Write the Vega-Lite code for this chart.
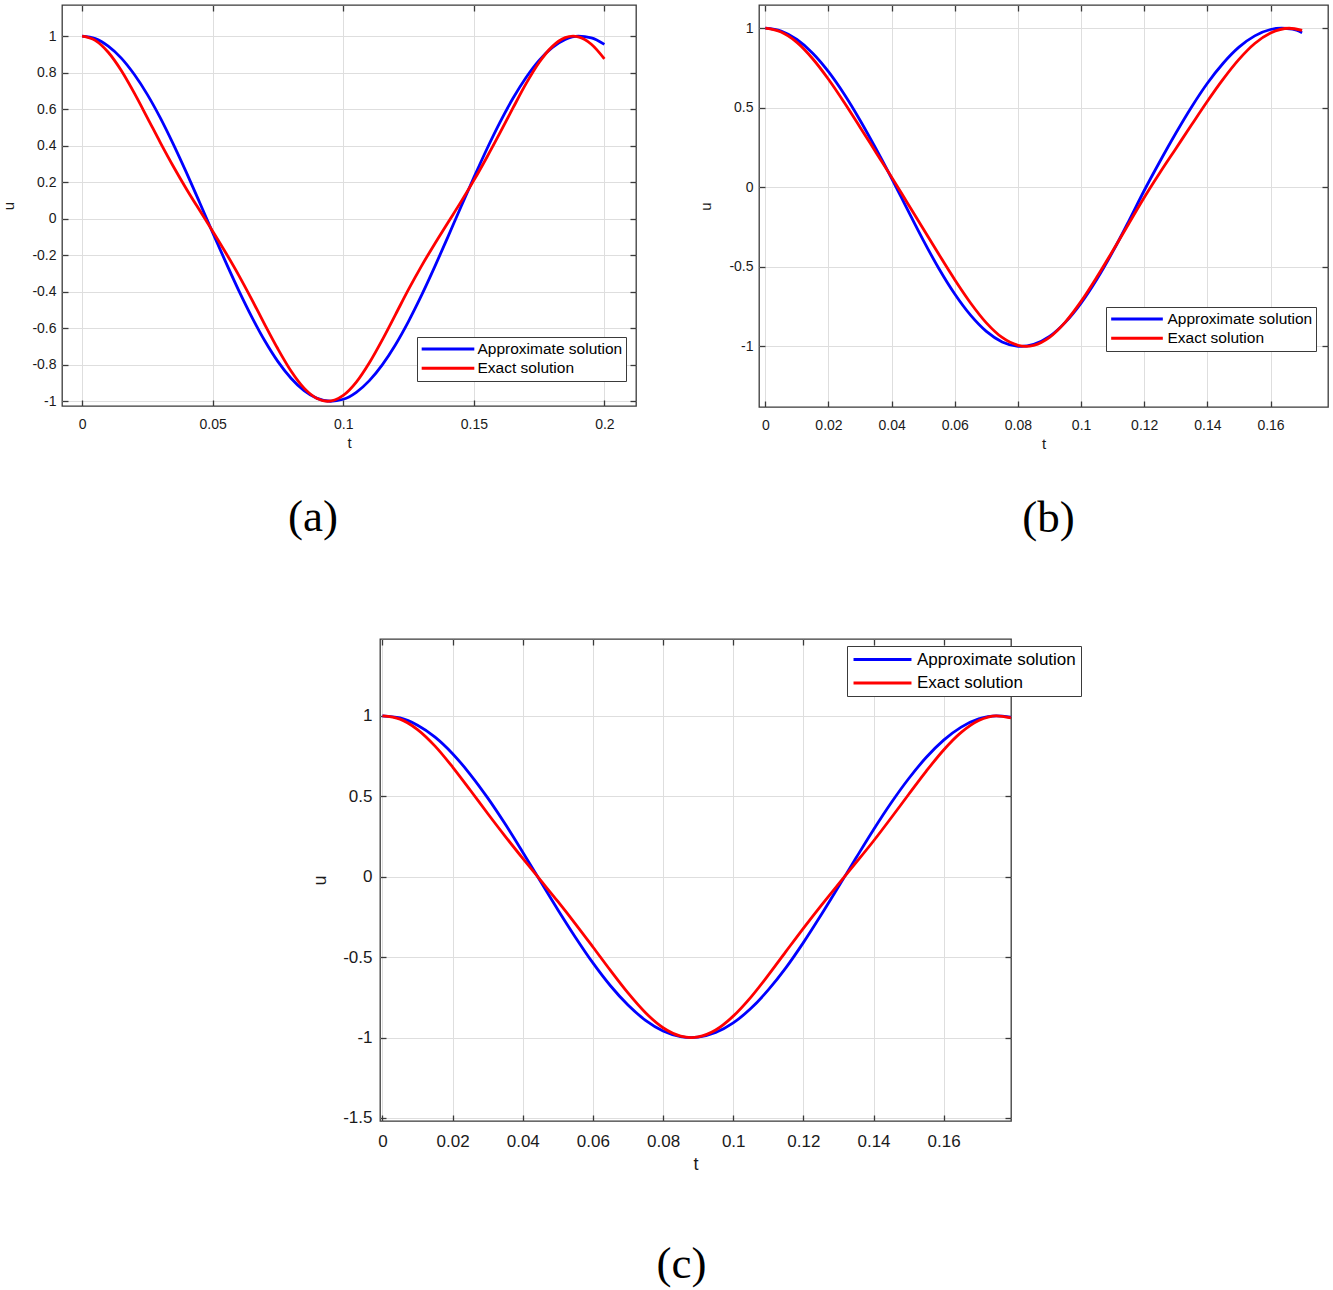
{
  "$schema": "https://vega.github.io/schema/vega-lite/v6.json",
  "background": "white",
  "padding": {"left": 1, "top": 3, "right": 2, "bottom": 2},
  "config": {
    "font": "Liberation Sans",
    "view": {"stroke": "#3a3a3a", "strokeWidth": 1.3},
    "axis": {
      "labelFont": "Liberation Sans", "labelFontSize": 14, "labelColor": "#1a1a1a",
      "titleFont": "Liberation Sans", "titleFontSize": 15, "titleFontWeight": "normal", "titleColor": "#1a1a1a",
      "domain": false, "grid": true, "gridColor": "#dedede", "gridWidth": 1,
      "tickColor": "#3a3a3a", "tickSize": -6, "tickWidth": 1.3
    },
    "legend": {
      "orient": "none", "direction": "vertical", "title": null,
      "symbolStrokeWidth": 3, "symbolSize": 196,
      "labelFont": "Liberation Sans", "labelColor": "#000000", "labelLimit": 400,
      "strokeColor": "#3a3a3a", "fillColor": "white"
    },
    "title": {"font": "Liberation Serif", "fontWeight": "normal", "color": "#000000", "fontSize": 45, "orient": "bottom", "anchor": "middle", "frame": "group"}
  },
  "datasets": {
    "a": [
      {"t": 0, "u": 1, "s": "Approximate solution"},
      {"t": 0.005, "u": 0.987, "s": "Approximate solution"},
      {"t": 0.01, "u": 0.946, "s": "Approximate solution"},
      {"t": 0.015, "u": 0.88, "s": "Approximate solution"},
      {"t": 0.02, "u": 0.79, "s": "Approximate solution"},
      {"t": 0.025, "u": 0.68, "s": "Approximate solution"},
      {"t": 0.03, "u": 0.551, "s": "Approximate solution"},
      {"t": 0.035, "u": 0.406, "s": "Approximate solution"},
      {"t": 0.04, "u": 0.251, "s": "Approximate solution"},
      {"t": 0.045, "u": 0.089, "s": "Approximate solution"},
      {"t": 0.05, "u": -0.076, "s": "Approximate solution"},
      {"t": 0.055, "u": -0.238, "s": "Approximate solution"},
      {"t": 0.06, "u": -0.394, "s": "Approximate solution"},
      {"t": 0.065, "u": -0.539, "s": "Approximate solution"},
      {"t": 0.07, "u": -0.67, "s": "Approximate solution"},
      {"t": 0.075, "u": -0.783, "s": "Approximate solution"},
      {"t": 0.08, "u": -0.874, "s": "Approximate solution"},
      {"t": 0.085, "u": -0.942, "s": "Approximate solution"},
      {"t": 0.09, "u": -0.984, "s": "Approximate solution"},
      {"t": 0.095, "u": -1, "s": "Approximate solution"},
      {"t": 0.1, "u": -0.989, "s": "Approximate solution"},
      {"t": 0.105, "u": -0.951, "s": "Approximate solution"},
      {"t": 0.11, "u": -0.887, "s": "Approximate solution"},
      {"t": 0.115, "u": -0.799, "s": "Approximate solution"},
      {"t": 0.12, "u": -0.69, "s": "Approximate solution"},
      {"t": 0.125, "u": -0.562, "s": "Approximate solution"},
      {"t": 0.13, "u": -0.419, "s": "Approximate solution"},
      {"t": 0.135, "u": -0.264, "s": "Approximate solution"},
      {"t": 0.14, "u": -0.102, "s": "Approximate solution"},
      {"t": 0.145, "u": 0.063, "s": "Approximate solution"},
      {"t": 0.15, "u": 0.225, "s": "Approximate solution"},
      {"t": 0.155, "u": 0.382, "s": "Approximate solution"},
      {"t": 0.16, "u": 0.528, "s": "Approximate solution"},
      {"t": 0.165, "u": 0.66, "s": "Approximate solution"},
      {"t": 0.17, "u": 0.774, "s": "Approximate solution"},
      {"t": 0.175, "u": 0.868, "s": "Approximate solution"},
      {"t": 0.18, "u": 0.937, "s": "Approximate solution"},
      {"t": 0.185, "u": 0.982, "s": "Approximate solution"},
      {"t": 0.19, "u": 1, "s": "Approximate solution"},
      {"t": 0.195, "u": 0.991, "s": "Approximate solution"},
      {"t": 0.2, "u": 0.955, "s": "Approximate solution"},
      {"t": 0, "u": 1, "s": "Exact solution"},
      {"t": 0.005, "u": 0.977, "s": "Exact solution"},
      {"t": 0.01, "u": 0.912, "s": "Exact solution"},
      {"t": 0.015, "u": 0.812, "s": "Exact solution"},
      {"t": 0.02, "u": 0.688, "s": "Exact solution"},
      {"t": 0.025, "u": 0.553, "s": "Exact solution"},
      {"t": 0.03, "u": 0.416, "s": "Exact solution"},
      {"t": 0.035, "u": 0.285, "s": "Exact solution"},
      {"t": 0.04, "u": 0.162, "s": "Exact solution"},
      {"t": 0.045, "u": 0.046, "s": "Exact solution"},
      {"t": 0.05, "u": -0.068, "s": "Exact solution"},
      {"t": 0.055, "u": -0.186, "s": "Exact solution"},
      {"t": 0.06, "u": -0.31, "s": "Exact solution"},
      {"t": 0.065, "u": -0.443, "s": "Exact solution"},
      {"t": 0.07, "u": -0.581, "s": "Exact solution"},
      {"t": 0.075, "u": -0.714, "s": "Exact solution"},
      {"t": 0.08, "u": -0.834, "s": "Exact solution"},
      {"t": 0.085, "u": -0.928, "s": "Exact solution"},
      {"t": 0.09, "u": -0.985, "s": "Exact solution"},
      {"t": 0.094, "u": -1, "s": "Exact solution"},
      {"t": 0.1, "u": -0.968, "s": "Exact solution"},
      {"t": 0.105, "u": -0.895, "s": "Exact solution"},
      {"t": 0.11, "u": -0.789, "s": "Exact solution"},
      {"t": 0.115, "u": -0.662, "s": "Exact solution"},
      {"t": 0.12, "u": -0.525, "s": "Exact solution"},
      {"t": 0.125, "u": -0.387, "s": "Exact solution"},
      {"t": 0.13, "u": -0.258, "s": "Exact solution"},
      {"t": 0.135, "u": -0.138, "s": "Exact solution"},
      {"t": 0.14, "u": -0.023, "s": "Exact solution"},
      {"t": 0.145, "u": 0.091, "s": "Exact solution"},
      {"t": 0.15, "u": 0.21, "s": "Exact solution"},
      {"t": 0.155, "u": 0.337, "s": "Exact solution"},
      {"t": 0.16, "u": 0.47, "s": "Exact solution"},
      {"t": 0.165, "u": 0.607, "s": "Exact solution"},
      {"t": 0.17, "u": 0.74, "s": "Exact solution"},
      {"t": 0.175, "u": 0.856, "s": "Exact solution"},
      {"t": 0.18, "u": 0.943, "s": "Exact solution"},
      {"t": 0.185, "u": 0.992, "s": "Exact solution"},
      {"t": 0.188, "u": 1, "s": "Exact solution"},
      {"t": 0.19, "u": 0.996, "s": "Exact solution"},
      {"t": 0.195, "u": 0.956, "s": "Exact solution"},
      {"t": 0.2, "u": 0.876, "s": "Exact solution"}
    ],
    "b": [
      {"t": 0, "u": 1, "s": "Approximate solution"},
      {"t": 0.005, "u": 0.982, "s": "Approximate solution"},
      {"t": 0.01, "u": 0.929, "s": "Approximate solution"},
      {"t": 0.015, "u": 0.843, "s": "Approximate solution"},
      {"t": 0.02, "u": 0.727, "s": "Approximate solution"},
      {"t": 0.025, "u": 0.585, "s": "Approximate solution"},
      {"t": 0.03, "u": 0.422, "s": "Approximate solution"},
      {"t": 0.035, "u": 0.244, "s": "Approximate solution"},
      {"t": 0.04, "u": 0.057, "s": "Approximate solution"},
      {"t": 0.045, "u": -0.139, "s": "Approximate solution"},
      {"t": 0.05, "u": -0.332, "s": "Approximate solution"},
      {"t": 0.055, "u": -0.512, "s": "Approximate solution"},
      {"t": 0.06, "u": -0.671, "s": "Approximate solution"},
      {"t": 0.065, "u": -0.804, "s": "Approximate solution"},
      {"t": 0.07, "u": -0.906, "s": "Approximate solution"},
      {"t": 0.075, "u": -0.972, "s": "Approximate solution"},
      {"t": 0.081, "u": -1, "s": "Approximate solution"},
      {"t": 0.085, "u": -0.987, "s": "Approximate solution"},
      {"t": 0.09, "u": -0.937, "s": "Approximate solution"},
      {"t": 0.095, "u": -0.849, "s": "Approximate solution"},
      {"t": 0.1, "u": -0.728, "s": "Approximate solution"},
      {"t": 0.105, "u": -0.578, "s": "Approximate solution"},
      {"t": 0.11, "u": -0.406, "s": "Approximate solution"},
      {"t": 0.115, "u": -0.217, "s": "Approximate solution"},
      {"t": 0.12, "u": -0.02, "s": "Approximate solution"},
      {"t": 0.125, "u": 0.164, "s": "Approximate solution"},
      {"t": 0.13, "u": 0.34, "s": "Approximate solution"},
      {"t": 0.135, "u": 0.505, "s": "Approximate solution"},
      {"t": 0.14, "u": 0.654, "s": "Approximate solution"},
      {"t": 0.145, "u": 0.78, "s": "Approximate solution"},
      {"t": 0.15, "u": 0.881, "s": "Approximate solution"},
      {"t": 0.155, "u": 0.952, "s": "Approximate solution"},
      {"t": 0.16, "u": 0.992, "s": "Approximate solution"},
      {"t": 0.1635, "u": 1, "s": "Approximate solution"},
      {"t": 0.167, "u": 0.994, "s": "Approximate solution"},
      {"t": 0.17, "u": 0.972, "s": "Approximate solution"},
      {"t": 0, "u": 1, "s": " Exact solution"},
      {"t": 0.005, "u": 0.976, "s": " Exact solution"},
      {"t": 0.01, "u": 0.911, "s": " Exact solution"},
      {"t": 0.015, "u": 0.808, "s": " Exact solution"},
      {"t": 0.02, "u": 0.679, "s": " Exact solution"},
      {"t": 0.025, "u": 0.533, "s": " Exact solution"},
      {"t": 0.03, "u": 0.378, "s": " Exact solution"},
      {"t": 0.035, "u": 0.221, "s": " Exact solution"},
      {"t": 0.04, "u": 0.064, "s": " Exact solution"},
      {"t": 0.045, "u": -0.098, "s": " Exact solution"},
      {"t": 0.05, "u": -0.26, "s": " Exact solution"},
      {"t": 0.055, "u": -0.423, "s": " Exact solution"},
      {"t": 0.06, "u": -0.581, "s": " Exact solution"},
      {"t": 0.065, "u": -0.727, "s": " Exact solution"},
      {"t": 0.07, "u": -0.852, "s": " Exact solution"},
      {"t": 0.075, "u": -0.944, "s": " Exact solution"},
      {"t": 0.08, "u": -0.993, "s": " Exact solution"},
      {"t": 0.0826, "u": -1, "s": " Exact solution"},
      {"t": 0.085, "u": -0.993, "s": " Exact solution"},
      {"t": 0.09, "u": -0.943, "s": " Exact solution"},
      {"t": 0.095, "u": -0.847, "s": " Exact solution"},
      {"t": 0.1, "u": -0.717, "s": " Exact solution"},
      {"t": 0.105, "u": -0.564, "s": " Exact solution"},
      {"t": 0.11, "u": -0.4, "s": " Exact solution"},
      {"t": 0.115, "u": -0.232, "s": " Exact solution"},
      {"t": 0.12, "u": -0.064, "s": " Exact solution"},
      {"t": 0.125, "u": 0.093, "s": " Exact solution"},
      {"t": 0.13, "u": 0.243, "s": " Exact solution"},
      {"t": 0.135, "u": 0.393, "s": " Exact solution"},
      {"t": 0.14, "u": 0.541, "s": " Exact solution"},
      {"t": 0.145, "u": 0.68, "s": " Exact solution"},
      {"t": 0.15, "u": 0.804, "s": " Exact solution"},
      {"t": 0.155, "u": 0.904, "s": " Exact solution"},
      {"t": 0.16, "u": 0.97, "s": " Exact solution"},
      {"t": 0.1659, "u": 1, "s": " Exact solution"},
      {"t": 0.17, "u": 0.986, "s": " Exact solution"}
    ],
    "c": [
      {"t": 0, "u": 1, "s": "Approximate solution"},
      {"t": 0.005, "u": 0.987, "s": "Approximate solution"},
      {"t": 0.01, "u": 0.942, "s": "Approximate solution"},
      {"t": 0.015, "u": 0.868, "s": "Approximate solution"},
      {"t": 0.02, "u": 0.765, "s": "Approximate solution"},
      {"t": 0.025, "u": 0.637, "s": "Approximate solution"},
      {"t": 0.03, "u": 0.49, "s": "Approximate solution"},
      {"t": 0.035, "u": 0.327, "s": "Approximate solution"},
      {"t": 0.04, "u": 0.152, "s": "Approximate solution"},
      {"t": 0.045, "u": -0.027, "s": "Approximate solution"},
      {"t": 0.05, "u": -0.205, "s": "Approximate solution"},
      {"t": 0.055, "u": -0.376, "s": "Approximate solution"},
      {"t": 0.06, "u": -0.536, "s": "Approximate solution"},
      {"t": 0.065, "u": -0.678, "s": "Approximate solution"},
      {"t": 0.07, "u": -0.798, "s": "Approximate solution"},
      {"t": 0.075, "u": -0.893, "s": "Approximate solution"},
      {"t": 0.08, "u": -0.959, "s": "Approximate solution"},
      {"t": 0.085, "u": -0.994, "s": "Approximate solution"},
      {"t": 0.088, "u": -1, "s": "Approximate solution"},
      {"t": 0.09, "u": -0.997, "s": "Approximate solution"},
      {"t": 0.095, "u": -0.969, "s": "Approximate solution"},
      {"t": 0.1, "u": -0.909, "s": "Approximate solution"},
      {"t": 0.105, "u": -0.82, "s": "Approximate solution"},
      {"t": 0.11, "u": -0.704, "s": "Approximate solution"},
      {"t": 0.115, "u": -0.567, "s": "Approximate solution"},
      {"t": 0.12, "u": -0.41, "s": "Approximate solution"},
      {"t": 0.125, "u": -0.24, "s": "Approximate solution"},
      {"t": 0.13, "u": -0.063, "s": "Approximate solution"},
      {"t": 0.135, "u": 0.116, "s": "Approximate solution"},
      {"t": 0.14, "u": 0.292, "s": "Approximate solution"},
      {"t": 0.145, "u": 0.458, "s": "Approximate solution"},
      {"t": 0.15, "u": 0.609, "s": "Approximate solution"},
      {"t": 0.155, "u": 0.741, "s": "Approximate solution"},
      {"t": 0.16, "u": 0.849, "s": "Approximate solution"},
      {"t": 0.165, "u": 0.93, "s": "Approximate solution"},
      {"t": 0.17, "u": 0.981, "s": "Approximate solution"},
      {"t": 0.175, "u": 1, "s": "Approximate solution"},
      {"t": 0.1792, "u": 0.991, "s": "Approximate solution"},
      {"t": 0, "u": 1, "s": " Exact solution"},
      {"t": 0.005, "u": 0.98, "s": " Exact solution"},
      {"t": 0.01, "u": 0.915, "s": " Exact solution"},
      {"t": 0.015, "u": 0.812, "s": " Exact solution"},
      {"t": 0.02, "u": 0.682, "s": " Exact solution"},
      {"t": 0.025, "u": 0.539, "s": " Exact solution"},
      {"t": 0.03, "u": 0.393, "s": " Exact solution"},
      {"t": 0.035, "u": 0.251, "s": " Exact solution"},
      {"t": 0.04, "u": 0.114, "s": " Exact solution"},
      {"t": 0.045, "u": -0.02, "s": " Exact solution"},
      {"t": 0.05, "u": -0.154, "s": " Exact solution"},
      {"t": 0.055, "u": -0.293, "s": " Exact solution"},
      {"t": 0.06, "u": -0.437, "s": " Exact solution"},
      {"t": 0.065, "u": -0.583, "s": " Exact solution"},
      {"t": 0.07, "u": -0.723, "s": " Exact solution"},
      {"t": 0.075, "u": -0.846, "s": " Exact solution"},
      {"t": 0.08, "u": -0.939, "s": " Exact solution"},
      {"t": 0.085, "u": -0.991, "s": " Exact solution"},
      {"t": 0.088, "u": -1, "s": " Exact solution"},
      {"t": 0.09, "u": -0.996, "s": " Exact solution"},
      {"t": 0.095, "u": -0.953, "s": " Exact solution"},
      {"t": 0.1, "u": -0.867, "s": " Exact solution"},
      {"t": 0.105, "u": -0.75, "s": " Exact solution"},
      {"t": 0.11, "u": -0.612, "s": " Exact solution"},
      {"t": 0.115, "u": -0.466, "s": " Exact solution"},
      {"t": 0.12, "u": -0.321, "s": " Exact solution"},
      {"t": 0.125, "u": -0.181, "s": " Exact solution"},
      {"t": 0.13, "u": -0.046, "s": " Exact solution"},
      {"t": 0.135, "u": 0.087, "s": " Exact solution"},
      {"t": 0.14, "u": 0.222, "s": " Exact solution"},
      {"t": 0.145, "u": 0.365, "s": " Exact solution"},
      {"t": 0.15, "u": 0.511, "s": " Exact solution"},
      {"t": 0.155, "u": 0.655, "s": " Exact solution"},
      {"t": 0.16, "u": 0.788, "s": " Exact solution"},
      {"t": 0.165, "u": 0.897, "s": " Exact solution"},
      {"t": 0.17, "u": 0.971, "s": " Exact solution"},
      {"t": 0.175, "u": 1, "s": " Exact solution"},
      {"t": 0.1792, "u": 0.987, "s": " Exact solution"}
    ]
  },
  "resolve": {"scale": {"color": "independent"}, "legend": {"color": "independent"}},
  "spacing": 95,
  "vconcat": [
    {
      "spacing": 60,
      "resolve": {"scale": {"color": "independent"}, "legend": {"color": "independent"}},
      "hconcat": [
        {
          "width": 574,
          "height": 401,
          "data": {"name": "a"},
          "title": {"text": "(a)", "offset": 45, "dx": -36},
          "layer": [
            {
              "mark": {"type": "line", "strokeWidth": 2.8, "interpolate": "monotone"},
              "encoding": {
                "x": {"field": "t", "type": "quantitative", "scale": {"domain": [-0.0077, 0.2121], "nice": false, "zero": false},
                      "axis": {"values": [0, 0.05, 0.1, 0.15, 0.2], "title": "t", "labelExpr": "'' + datum.value", "labelPadding": 17, "titlePadding": 4}},
                "y": {"field": "u", "type": "quantitative", "scale": {"domain": [-1.026, 1.171], "nice": false, "zero": false},
                      "axis": {"values": [-1, -0.8, -0.6, -0.4, -0.2, 0, 0.2, 0.4, 0.6, 0.8, 1], "title": "u", "labelExpr": "'' + datum.value", "labelPadding": 12, "titlePadding": 15}},
                "color": {"field": "s", "type": "nominal",
                          "scale": {"domain": ["Approximate solution", "Exact solution"], "range": ["#0000ff", "#ff0000"]},
                          "legend": {"legendX": 355, "legendY": 332, "symbolType": "M-3.76,0H3.76", "symbolOffset": 19, "labelOffset": 21, "labelFontSize": 15.5, "padding": 3.5, "rowPadding": 2.3}}
              }
            },
            {
              "mark": {"type": "line", "opacity": 0},
              "encoding": {
                "x": {"field": "t", "type": "quantitative", "axis": {"orient": "top", "values": [0, 0.05, 0.1, 0.15, 0.2], "labels": false, "grid": false, "title": null}},
                "y": {"field": "u", "type": "quantitative", "axis": {"orient": "right", "values": [-1, -0.8, -0.6, -0.4, -0.2, 0, 0.2, 0.4, 0.6, 0.8, 1], "labels": false, "grid": false, "title": null}}
              }
            }
          ],
          "resolve": {"axis": {"x": "independent", "y": "independent"}}
        },
        {
          "width": 569,
          "height": 402,
          "data": {"name": "b"},
          "title": {"text": "(b)", "offset": 45, "dx": 5},
          "layer": [
            {
              "mark": {"type": "line", "strokeWidth": 2.8, "interpolate": "monotone"},
              "encoding": {
                "x": {"field": "t", "type": "quantitative", "scale": {"domain": [-0.002, 0.1782], "nice": false, "zero": false},
                      "axis": {"values": [0, 0.02, 0.04, 0.06, 0.08, 0.1, 0.12, 0.14, 0.16], "title": "t", "labelExpr": "'' + datum.value", "labelPadding": 17, "titlePadding": 4}},
                "y": {"field": "u", "type": "quantitative", "scale": {"domain": [-1.381, 1.146], "nice": false, "zero": false},
                      "axis": {"values": [-1, -0.5, 0, 0.5, 1], "title": "u", "labelExpr": "'' + datum.value", "labelPadding": 12, "titlePadding": 15}},
                "color": {"field": "s", "type": "nominal",
                          "scale": {"domain": ["Approximate solution", " Exact solution"], "range": ["#0000ff", "#ff0000"]},
                          "legend": {"legendX": 347, "legendY": 302, "symbolType": "M-3.69,0H3.69", "symbolOffset": 19, "labelOffset": 22, "labelFontSize": 15.5, "padding": 3.5, "rowPadding": 2.3}}
              }
            },
            {
              "mark": {"type": "line", "opacity": 0},
              "encoding": {
                "x": {"field": "t", "type": "quantitative", "axis": {"orient": "top", "values": [0, 0.02, 0.04, 0.06, 0.08, 0.1, 0.12, 0.14, 0.16], "labels": false, "grid": false, "title": null}},
                "y": {"field": "u", "type": "quantitative", "axis": {"orient": "right", "values": [-1, -0.5, 0, 0.5, 1], "labels": false, "grid": false, "title": null}}
              }
            }
          ],
          "resolve": {"axis": {"x": "independent", "y": "independent"}}
        }
      ]
    },
    {
      "spacing": 0,
      "resolve": {"scale": {"color": "independent"}, "legend": {"color": "independent"}},
      "hconcat": [
        {
          "width": 249,
          "height": 10,
          "view": {"stroke": null},
          "data": {"values": [{"t": 0}]},
          "mark": {"type": "point", "opacity": 0},
          "encoding": {}
        },
        {
          "width": 631,
          "height": 482,
          "data": {"name": "c"},
          "title": {"text": "(c)", "offset": 69, "dx": -14},
          "layer": [
            {
              "mark": {"type": "line", "strokeWidth": 2.8, "interpolate": "monotone"},
              "encoding": {
                "x": {"field": "t", "type": "quantitative", "scale": {"domain": [-0.0007, 0.1792], "nice": false, "zero": false},
                      "axis": {"values": [0, 0.02, 0.04, 0.06, 0.08, 0.1, 0.12, 0.14, 0.16], "title": "t", "labelExpr": "'' + datum.value", "labelFontSize": 17, "titleFontSize": 18, "labelPadding": 18, "titlePadding": 6}},
                "y": {"field": "u", "type": "quantitative", "scale": {"domain": [-1.519, 1.478], "nice": false, "zero": false},
                      "axis": {"values": [-1.5, -1, -0.5, 0, 0.5, 1], "title": "u", "labelExpr": "'' + datum.value", "labelFontSize": 17, "titleFontSize": 18, "labelPadding": 14, "titlePadding": 13}},
                "color": {"field": "s", "type": "nominal",
                          "scale": {"domain": ["Approximate solution", " Exact solution"], "range": ["#0000ff", "#ff0000"]},
                          "legend": {"legendX": 467, "legendY": 7, "symbolType": "M-4.14,0H4.14", "symbolOffset": 22, "labelOffset": 26, "labelFontSize": 17, "padding": 5, "rowPadding": 5.5}}
              }
            },
            {
              "mark": {"type": "line", "opacity": 0},
              "encoding": {
                "x": {"field": "t", "type": "quantitative", "axis": {"orient": "top", "values": [0, 0.02, 0.04, 0.06, 0.08, 0.1, 0.12, 0.14, 0.16], "labels": false, "grid": false, "title": null}},
                "y": {"field": "u", "type": "quantitative", "axis": {"orient": "right", "values": [-1.5, -1, -0.5, 0, 0.5, 1], "labels": false, "grid": false, "title": null}}
              }
            }
          ],
          "resolve": {"axis": {"x": "independent", "y": "independent"}}
        }
      ]
    }
  ]
}
